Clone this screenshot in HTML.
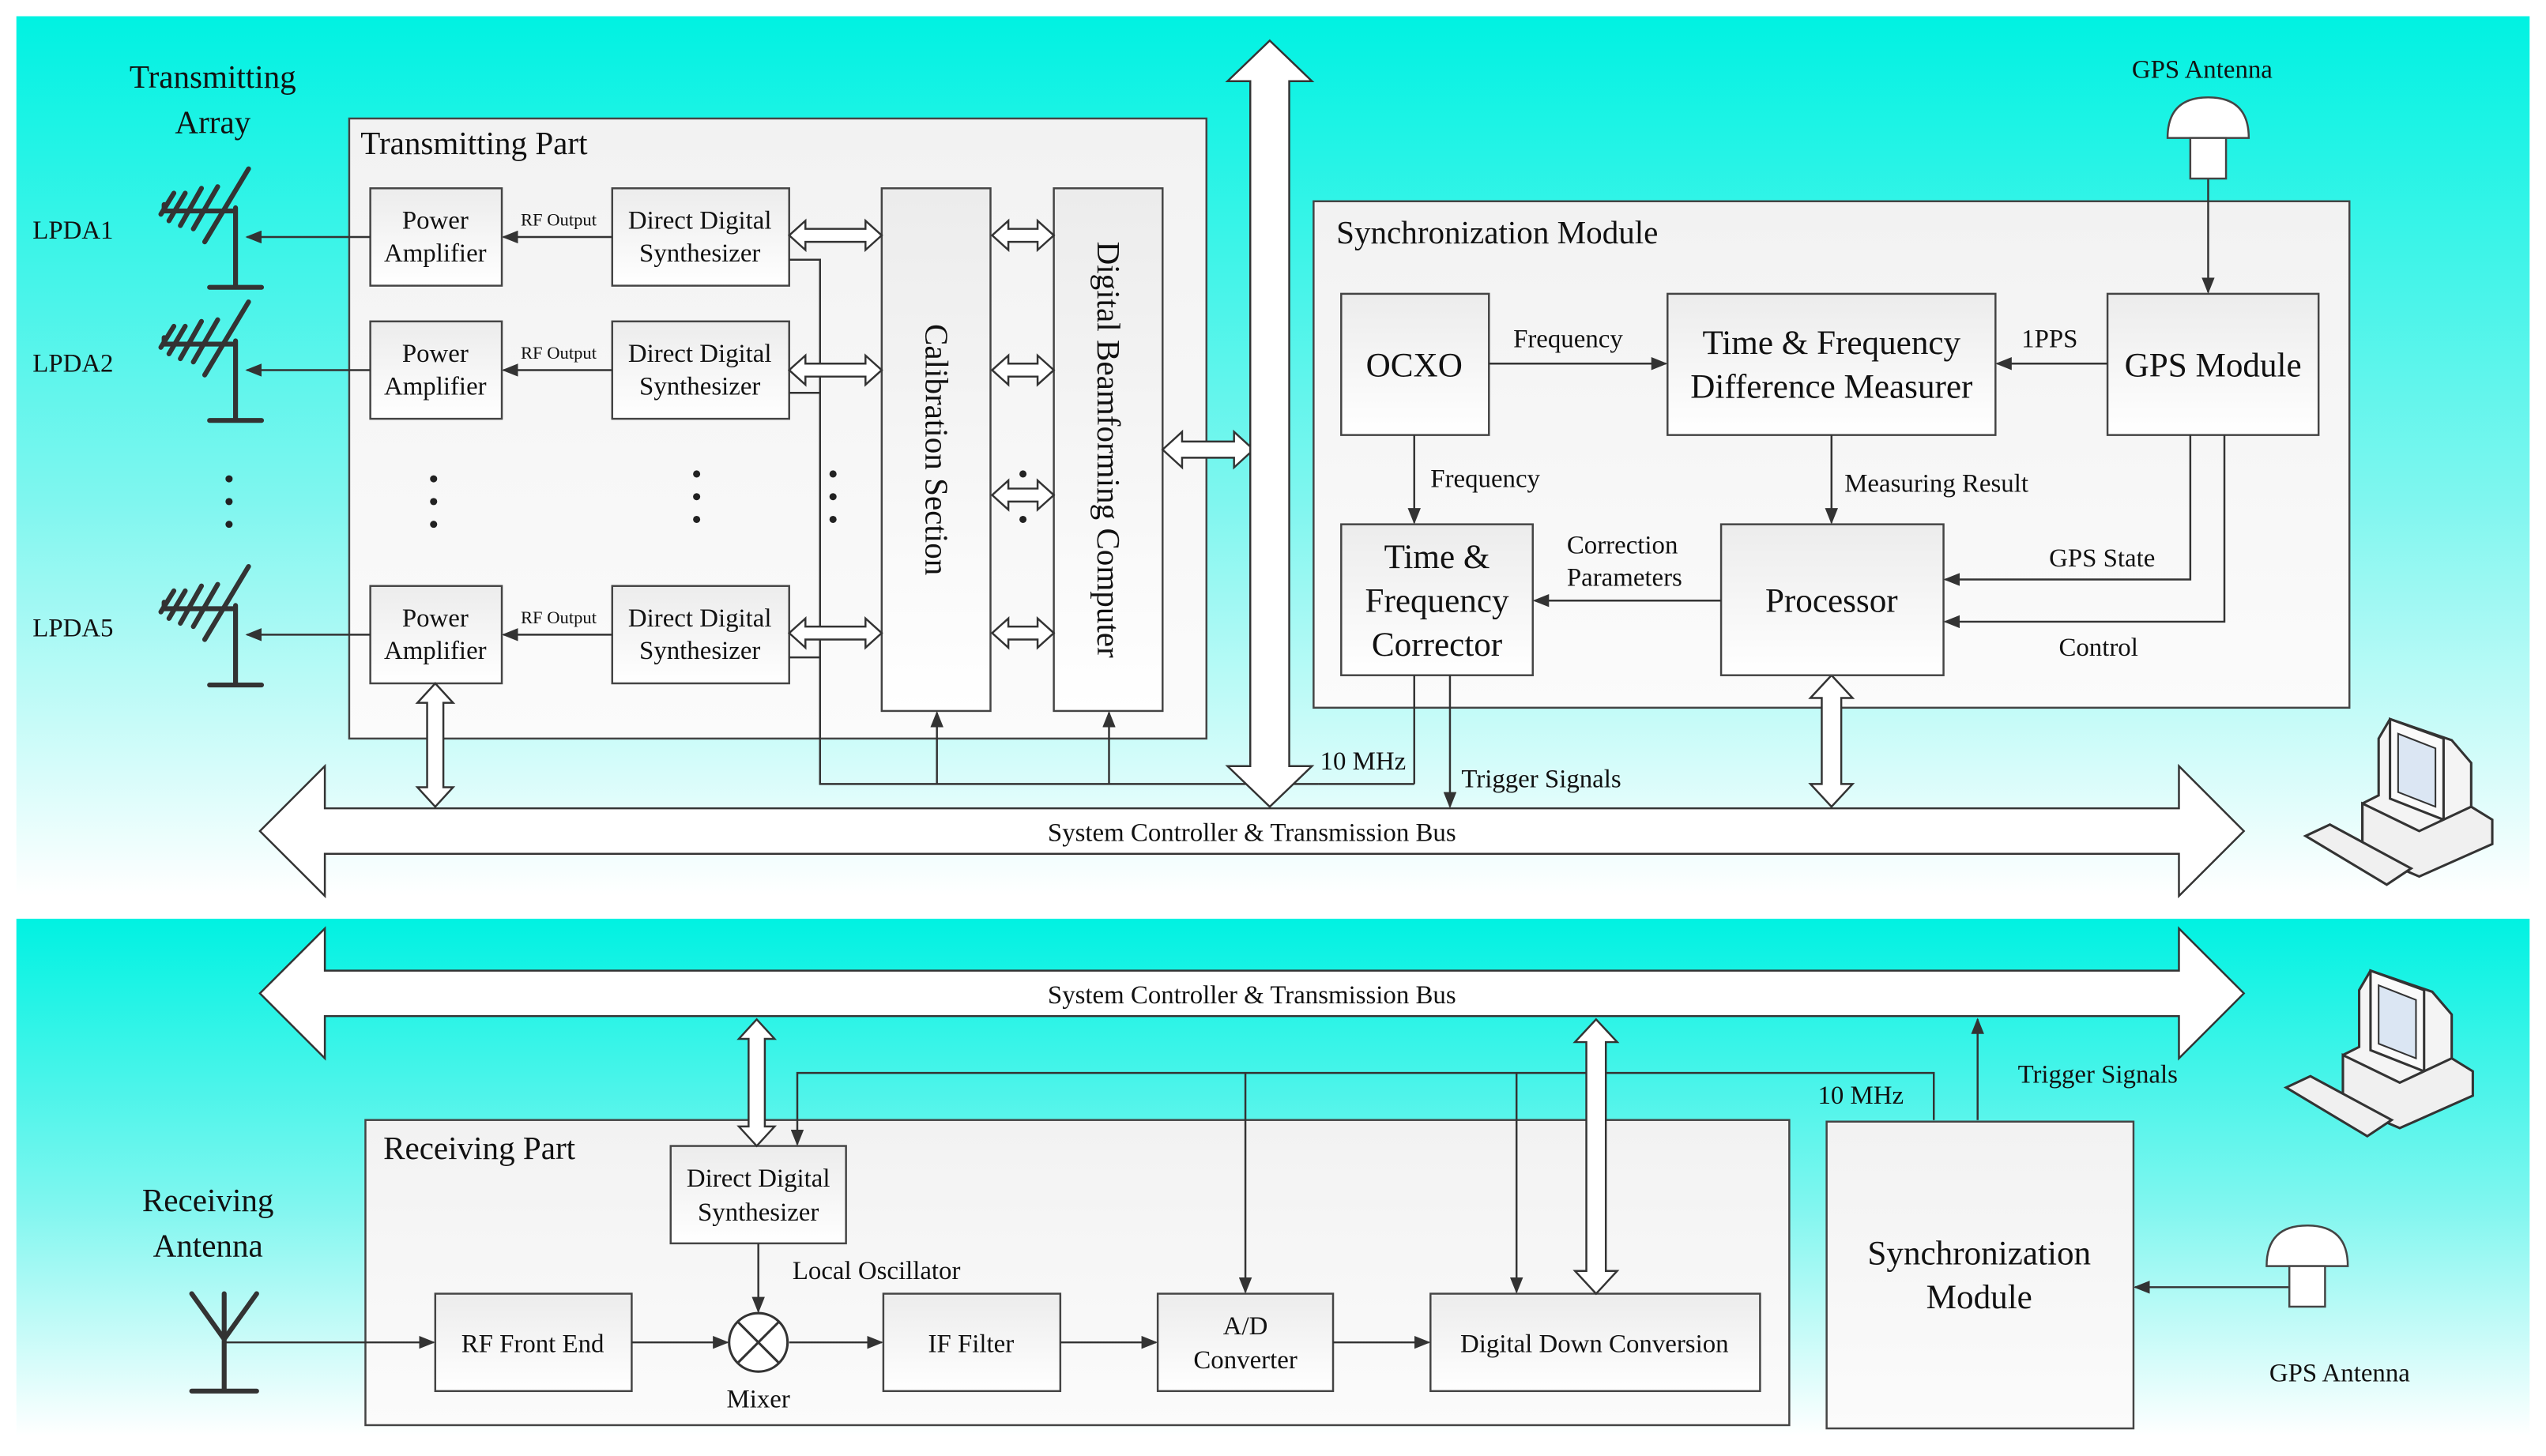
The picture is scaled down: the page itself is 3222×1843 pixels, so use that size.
<!DOCTYPE html>
<html><head><meta charset="utf-8"><style>
html,body{margin:0;padding:0;background:#fff;}
svg{display:block;}
text{font-family:"Liberation Serif","DejaVu Serif",serif;fill:#111;}
</style></head><body>
<svg width="3222" height="1843" viewBox="0 0 1568 897" xmlns="http://www.w3.org/2000/svg" font-family="Liberation Serif, serif">
<defs>
<linearGradient id="bg" x1="0" y1="0" x2="0" y2="1">
<stop offset="0" stop-color="#00f2e2"/><stop offset="0.55" stop-color="#7ff6ef"/><stop offset="1" stop-color="#ffffff"/></linearGradient>
<linearGradient id="bx" x1="0" y1="0" x2="0" y2="1">
<stop offset="0" stop-color="#ececec"/><stop offset="1" stop-color="#ffffff"/></linearGradient>
<linearGradient id="pn" x1="0" y1="0" x2="0" y2="1">
<stop offset="0" stop-color="#f2f2f2"/><stop offset="1" stop-color="#fbfbfb"/></linearGradient>
<marker id="ah" markerWidth="10" markerHeight="8" refX="9" refY="4" orient="auto" markerUnits="userSpaceOnUse">
<path d="M0,0 L10,4 L0,8 z" fill="#333"/></marker>
<g id="lpda" stroke="#333" stroke-width="3" stroke-linecap="round" fill="none">
<path d="M101,126 L101,130 L145,130 M145,128 L145,177 M129,177 L161,177"/>
<path d="M126,149 L153,104 M119,141 L134,115 M111,139 L124,116 M104,136 L114,119 M99,132 L107,119"/>
</g>
<g id="pc">
<path d="M1465,455 L1472,443 L1510,456 L1522,470 L1522,520 L1490,536 L1455,520 L1455,495 L1465,490 z" fill="#f4f4f4" stroke="#333" stroke-width="1.5"/>
<path d="M1472,443 L1505,455 L1505,505 L1472,492 z" fill="#fafafa" stroke="#333" stroke-width="1.5"/>
<path d="M1477,452 L1500,461 L1500,497 L1477,488 z" fill="#dbe6f3" stroke="#333" stroke-width="1"/>
<path d="M1455,495 L1490,512 L1522,497 L1535,505 L1535,520 L1490,540 L1455,525 z" fill="#f0f0f0" stroke="#333" stroke-width="1.5"/>
<path d="M1420,515 L1435,508 L1485,535 L1470,545 z" fill="#f0f0f0" stroke="#333" stroke-width="1.5"/>
</g>
</defs>

<rect x="10" y="10" width="1548" height="542" fill="url(#bg)"/>
<rect x="10" y="566" width="1548" height="319" fill="url(#bg)"/>

<text x="131" y="54" font-size="20" text-anchor="middle">Transmitting</text>
<text x="131" y="82" font-size="20" text-anchor="middle">Array</text>

<rect x="215" y="73" width="528" height="382" fill="url(#pn)" stroke="#444" stroke-width="1.2"/>
<text x="222" y="95" font-size="20">Transmitting Part</text>

<use href="#lpda"/>
<use href="#lpda" y="82"/>
<use href="#lpda" y="245"/>
<text x="20" y="147" font-size="16">LPDA1</text>
<text x="20" y="229" font-size="16">LPDA2</text>
<text x="20" y="392" font-size="16">LPDA5</text>
<g fill="#222"><circle cx="141" cy="295" r="2.2"/><circle cx="141" cy="309" r="2.2"/><circle cx="141" cy="323" r="2.2"/>
<circle cx="267" cy="295" r="2.2"/><circle cx="267" cy="309" r="2.2"/><circle cx="267" cy="323" r="2.2"/>
<circle cx="429" cy="292" r="2.2"/><circle cx="429" cy="306" r="2.2"/><circle cx="429" cy="320" r="2.2"/>
<circle cx="513" cy="292" r="2.2"/><circle cx="513" cy="306" r="2.2"/><circle cx="513" cy="320" r="2.2"/>
<circle cx="630" cy="292" r="2.2"/><circle cx="630" cy="306" r="2.2"/><circle cx="630" cy="320" r="2.2"/></g>

<g stroke="#444" stroke-width="1.2" fill="url(#bx)">
<rect x="228" y="116" width="81" height="60"/><rect x="228" y="198" width="81" height="60"/><rect x="228" y="361" width="81" height="60"/>
<rect x="377" y="116" width="109" height="60"/><rect x="377" y="198" width="109" height="60"/><rect x="377" y="361" width="109" height="60"/>
<rect x="543" y="116" width="67" height="322"/><rect x="649" y="116" width="67" height="322"/>
</g>
<g font-size="16" text-anchor="middle">
<text x="268" y="141">Power</text><text x="268" y="161">Amplifier</text>
<text x="268" y="223">Power</text><text x="268" y="243">Amplifier</text>
<text x="268" y="386">Power</text><text x="268" y="406">Amplifier</text>
<text x="431" y="141">Direct Digital</text><text x="431" y="161">Synthesizer</text>
<text x="431" y="223">Direct Digital</text><text x="431" y="243">Synthesizer</text>
<text x="431" y="386">Direct Digital</text><text x="431" y="406">Synthesizer</text>
</g>
<g font-size="11" text-anchor="middle"><text x="344" y="139">RF Output</text><text x="344" y="221">RF Output</text><text x="344" y="384">RF Output</text></g>
<text transform="translate(570,277) rotate(90)" font-size="20" text-anchor="middle">Calibration Section</text>
<text transform="translate(676,277) rotate(90)" font-size="20" text-anchor="middle">Digital Beamforming Computer</text>

<g stroke="#333" stroke-width="1.2" fill="none" marker-end="url(#ah)">
<line x1="377" y1="146" x2="310" y2="146"/><line x1="377" y1="228" x2="310" y2="228"/><line x1="377" y1="391" x2="310" y2="391"/>
<line x1="228" y1="146" x2="152" y2="146"/><line x1="228" y1="228" x2="152" y2="228"/><line x1="228" y1="391" x2="152" y2="391"/>
<line x1="577" y1="483" x2="577" y2="439"/><line x1="683" y1="483" x2="683" y2="439"/>
</g>
<g stroke="#333" stroke-width="1.2" fill="none">
<polyline points="486,160 505,160 505,483 812,483"/>
<line x1="486" y1="242" x2="505" y2="242"/><line x1="486" y1="405" x2="505" y2="405"/>
</g>

<!-- sync module -->
<rect x="809" y="124" width="638" height="312" fill="url(#pn)" stroke="#444" stroke-width="1.2"/>
<text x="823" y="150" font-size="20">Synchronization Module</text>

<g fill="#fff" stroke="#333" stroke-width="1.2">
<polygon points="486,145 496,136 496,141 533,141 533,136 543,145 533,154 533,149 496,149 496,154"/>
<polygon points="486,228 496,219 496,224 533,224 533,219 543,228 533,237 533,232 496,232 496,237"/>
<polygon points="486,390 496,381 496,386 533,386 533,381 543,390 533,399 533,394 496,394 496,399"/>
<polygon points="611,145 621,136 621,141 639,141 639,136 649,145 639,154 639,149 621,149 621,154"/>
<polygon points="611,228 621,219 621,224 639,224 639,219 649,228 639,237 639,232 621,232 621,237"/>
<polygon points="611,305 621,296 621,301 639,301 639,296 649,305 639,314 639,309 621,309 621,314"/>
<polygon points="611,390 621,381 621,386 639,386 639,381 649,390 639,399 639,394 621,394 621,399"/>
<polygon points="716,277 728,266 728,272 760,272 760,266 772,277 760,288 760,282 728,282 728,288"/>
<polygon points="268,421 279,433 273,433 273,485 279,485 268,497 257,485 263,485 263,433 257,433"/>
<polygon points="1128,416 1141,430 1134,430 1134,483 1141,483 1128,497 1115,483 1122,483 1122,430 1115,430"/>
<polygon points="160,512 200,472 200,498 1342,498 1342,472 1382,512 1342,552 1342,526 200,526 200,552"/>
<polygon points="782,25 808,50 794,50 794,472 808,472 782,497 756,472 770,472 770,50 756,50"/>
</g>
<text x="771" y="518" font-size="16" text-anchor="middle">System Controller &amp; Transmission Bus</text>

<g stroke="#444" stroke-width="1.2" fill="url(#bx)">
<rect x="826" y="181" width="91" height="87"/><rect x="1027" y="181" width="202" height="87"/><rect x="1298" y="181" width="130" height="87"/>
<rect x="826" y="323" width="118" height="93"/><rect x="1060" y="323" width="137" height="93"/>
</g>
<g text-anchor="middle" font-size="21">
<text x="871" y="232">OCXO</text>
<text x="1128" y="218">Time &amp; Frequency</text><text x="1128" y="245">Difference Measurer</text>
<text x="1363" y="232">GPS Module</text>
<text x="885" y="350">Time &amp;</text><text x="885" y="377">Frequency</text><text x="885" y="404">Corrector</text>
<text x="1128" y="377">Processor</text>
</g>
<g font-size="16">
<text x="932" y="214">Frequency</text><text x="1245" y="214">1PPS</text>
<text x="881" y="300">Frequency</text><text x="1136" y="303">Measuring Result</text>
<text x="965" y="341">Correction</text><text x="965" y="361">Parameters</text>
<text x="1262" y="349">GPS State</text><text x="1268" y="404">Control</text>
<text x="813" y="474">10 MHz</text><text x="900" y="485">Trigger Signals</text>
<text x="1313" y="48">GPS Antenna</text>
</g>
<g stroke="#333" stroke-width="1.2" fill="none" marker-end="url(#ah)">
<line x1="917" y1="224" x2="1026" y2="224"/><line x1="1298" y1="224" x2="1230" y2="224"/>
<line x1="871" y1="268" x2="871" y2="322"/><line x1="1128" y1="268" x2="1128" y2="322"/>
<line x1="1060" y1="370" x2="945" y2="370"/>
<polyline points="1349,268 1349,357 1198,357"/><polyline points="1370,268 1370,383 1198,383"/>
<line x1="1360" y1="110" x2="1360" y2="180"/>
<line x1="893" y1="416" x2="893" y2="497"/>
</g>
<line x1="871" y1="416" x2="871" y2="483" stroke="#333" stroke-width="1.2"/>
<line x1="812" y1="483" x2="871" y2="483" stroke="#333" stroke-width="1.2"/>
<path d="M1335,85 Q1335,60 1360,60 Q1385,60 1385,85 z" fill="#fff" stroke="#444" stroke-width="1.2"/>
<rect x="1349" y="85" width="22" height="25" fill="#fff" stroke="#444" stroke-width="1.2"/>
<use href="#pc"/>

<!-- ===== BOTTOM ===== -->
<g fill="#fff" stroke="#333" stroke-width="1.2">
<polygon points="160,612 200,572 200,598 1342,598 1342,572 1382,612 1342,652 1342,626 200,626 200,652"/>
</g>
<text x="771" y="618" font-size="16" text-anchor="middle">System Controller &amp; Transmission Bus</text>

<rect x="225" y="690" width="877" height="188" fill="url(#pn)" stroke="#444" stroke-width="1.2"/>
<text x="236" y="714" font-size="20">Receiving Part</text>
<rect x="1125" y="691" width="189" height="189" fill="url(#pn)" stroke="#444" stroke-width="1.2"/>
<text x="1219" y="779" font-size="21" text-anchor="middle">Synchronization</text>
<text x="1219" y="806" font-size="21" text-anchor="middle">Module</text>

<g stroke="#444" stroke-width="1.2" fill="url(#bx)">
<rect x="413" y="706" width="108" height="60"/><rect x="268" y="797" width="121" height="60"/>
<rect x="544" y="797" width="109" height="60"/><rect x="713" y="797" width="108" height="60"/>
<rect x="881" y="797" width="203" height="60"/>
</g>
<g font-size="16" text-anchor="middle">
<text x="467" y="731">Direct Digital</text><text x="467" y="752">Synthesizer</text>
<text x="328" y="833">RF Front End</text><text x="598" y="833">IF Filter</text>
<text x="767" y="822">A/D</text><text x="767" y="843">Converter</text>
<text x="982" y="833">Digital Down Conversion</text>
<text x="467" y="867">Mixer</text>
<text x="1292" y="667">Trigger Signals</text>
<text x="1146" y="680">10 MHz</text>
<text x="1441" y="851">GPS Antenna</text>
</g>
<text x="488" y="788" font-size="16">Local Oscillator</text>
<text x="128" y="746" font-size="20" text-anchor="middle">Receiving</text>
<text x="128" y="774" font-size="20" text-anchor="middle">Antenna</text>

<circle cx="467" cy="827" r="18" fill="#fff" stroke="#333" stroke-width="1.5"/>
<path d="M454,814 L480,840 M480,814 L454,840" stroke="#333" stroke-width="1.5"/>

<g stroke="#333" stroke-width="1.2" fill="none" marker-end="url(#ah)">
<line x1="138" y1="827" x2="267" y2="827"/><line x1="389" y1="827" x2="448" y2="827"/>
<line x1="486" y1="827" x2="543" y2="827"/><line x1="653" y1="827" x2="712" y2="827"/>
<line x1="821" y1="827" x2="880" y2="827"/>
<line x1="467" y1="766" x2="467" y2="808"/>
<polyline points="1191,690 1191,661 491,661 491,705"/>
<line x1="767" y1="661" x2="767" y2="796"/><line x1="934" y1="661" x2="934" y2="796"/>
<line x1="1218" y1="690" x2="1218" y2="628"/>
<line x1="1410" y1="793" x2="1315" y2="793"/>
</g>
<g fill="#fff" stroke="#333" stroke-width="1.2">
<polygon points="466,628 477,640 471,640 471,694 477,694 466,706 455,694 461,694 461,640 455,640"/>
<polygon points="983,628 996,642 989,642 989,783 996,783 983,797 970,783 977,783 977,642 970,642"/>
</g>
<g stroke="#333" stroke-width="3" fill="none" stroke-linecap="round">
<path d="M118,797 L138,825 L158,797 M138,797 L138,857 M118,857 L158,857"/>
</g>
<path d="M1396,780 Q1396,755 1421,755 Q1446,755 1446,780 z" fill="#fff" stroke="#444" stroke-width="1.2"/>
<rect x="1410" y="780" width="22" height="25" fill="#fff" stroke="#444" stroke-width="1.2"/>
<use href="#pc" x="-12" y="155"/>
</svg>
</body></html>
